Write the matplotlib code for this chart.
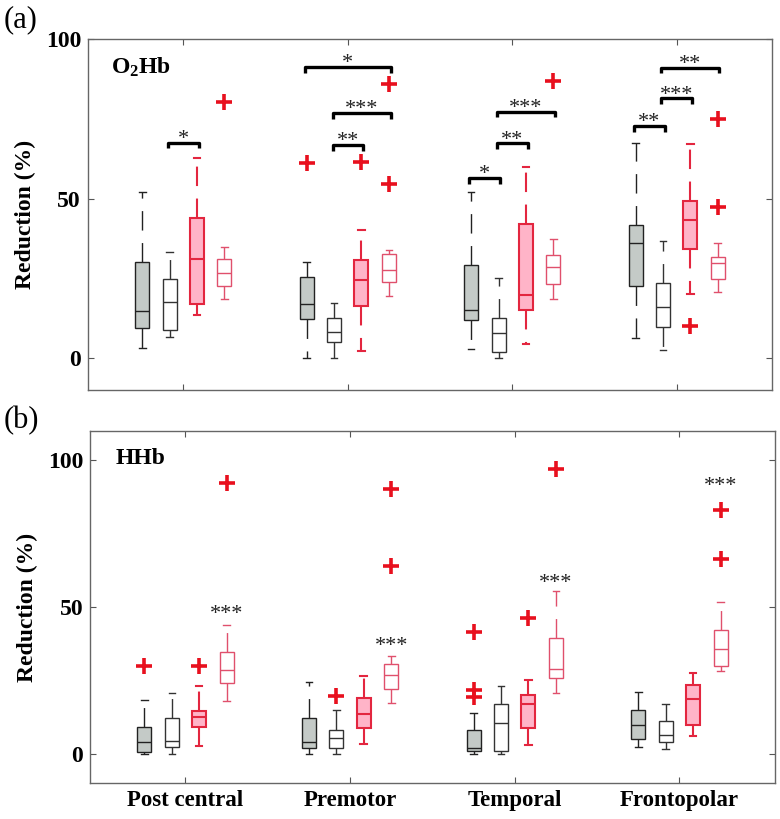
import matplotlib
matplotlib.use("Agg")
import matplotlib.pyplot as plt
import numpy as np

plt.rcParams['font.family'] = ['Liberation Serif', 'DejaVu Serif']
plt.rcParams['mathtext.fontset'] = 'custom'
plt.rcParams['mathtext.rm'] = 'Liberation Serif:bold'
plt.rcParams['mathtext.bf'] = 'Liberation Serif:bold'
plt.rcParams['mathtext.it'] = 'Liberation Serif:bold'

regions = ['Post central', 'Premotor', 'Temporal', 'Frontopolar']
yticks = [0, 50, 100]

# rows: grey, white, pink, red ; columns: regions
o2hb_lo  = [[3.1, 0.0, 2.7, 6.2], [6.7, 0.0, 0.0, 2.5], [13.6, 2.2, 4.3, 20.0], [18.4, 19.5, 18.6, 20.7]]
o2hb_q1  = [[9.4, 12.2, 11.9, 22.6], [8.8, 5.2, 1.8, 9.7], [16.9, 16.4, 15.2, 34.3], [22.5, 23.8, 23.3, 24.8]]
o2hb_med = [[14.7, 17.0, 15.2, 36.0], [17.6, 8.3, 8.0, 15.9], [31.2, 24.4, 19.8, 43.2], [26.8, 27.6, 28.7, 29.9]]
o2hb_q3  = [[30.0, 25.3, 29.3, 41.6], [24.8, 12.6, 12.6, 23.6], [44.0, 30.6, 42.0, 49.2], [31.2, 32.7, 32.2, 31.6]]
o2hb_hi  = [[52.2, 30.0, 52.0, 67.4], [33.2, 17.4, 25.2, 36.6], [62.6, 40.2, 59.8, 67.2], [34.8, 34.0, 37.4, 36.0]]
o2hb_fl  = [[[], [61.0], [], []], [[], [], [], []], [[], [61.6], [], [10.0]], [[80.1], [85.8, 54.6], [86.9], [74.9, 47.5]]]

hhb_lo  = [[0.0, 0.0, 0.0, 2.2], [0.0, 0.0, 0.0, 1.6], [2.7, 3.3, 3.0, 5.9], [17.9, 17.4, 20.7, 28.1]]
hhb_q1  = [[0.7, 1.9, 1.0, 5.0], [2.2, 1.9, 1.0, 4.1], [9.0, 8.8, 8.8, 9.6], [24.1, 22.1, 25.9, 29.9]]
hhb_med = [[3.9, 3.9, 1.8, 9.8], [4.2, 5.3, 10.4, 6.2], [12.4, 13.4, 17.0, 18.5], [28.4, 26.7, 28.8, 35.6]]
hhb_q3  = [[9.2, 12.1, 7.9, 15.0], [12.1, 7.9, 16.8, 11.1], [14.7, 19.1, 19.9, 23.4], [34.7, 30.5, 39.5, 42.3]]
hhb_hi  = [[18.2, 24.4, 13.8, 21.0], [20.7, 15.0, 23.0, 17.0], [23.0, 26.5, 25.2, 27.6], [43.8, 33.2, 55.6, 51.6]]
hhb_fl  = [[[29.9], [], [41.5, 21.8, 19.3], []], [[], [19.5], [], []], [[29.9], [], [46.3], []], [[92.4], [90.3, 63.8], [96.9], [83.2, 66.4]]]

# significance brackets panel (a): region, from series, to series, height, label
sig_region = [0, 1, 1, 1, 2, 2, 2, 3, 3, 3]
sig_from   = [1, 0, 1, 1, 0, 1, 1, 0, 1, 1]
sig_to     = [2, 3, 3, 2, 1, 2, 3, 1, 2, 3]
sig_y      = [67.5, 91.2, 76.8, 66.8, 56.4, 67.3, 77.2, 72.8, 81.4, 91.0]
sig_label  = ['*', '*', '***', '**', '*', '**', '***', '**', '***', '**']

# panel (b) stars above the red series
hhb_star_y = [49.6, 38.7, 60.4, 93.3]

offsets = [-0.25, -0.083, 0.083, 0.25]
box_face = ['#c4cac7', 'white', '#ffb4c8', 'white']
box_edge = ['#222222', '#333333', '#e3263f', '#e0506c']
box_lw = [1.0, 1.0, 1.5, 1.0]
flier_col = '#e8101e'
star_col = '#222222'

fig = plt.figure(figsize=(7.8, 8.19), dpi=100)
ax_a = fig.add_axes([0.1128, 0.5238, 0.877, 0.4286])
ax_b = fig.add_axes([0.1154, 0.044, 0.878, 0.4298])


def draw_panel(ax, lo, q1, med, q3, hi, fl, ylim):
    for s in range(4):
        stats = []
        for r in range(4):
            stats.append(dict(med=med[s][r], q1=q1[s][r], q3=q3[s][r],
                              whislo=lo[s][r], whishi=hi[s][r], fliers=fl[s][r]))
        pos = [r + 1 + offsets[s] for r in range(4)]
        dash = (0, (14 / box_lw[s], 9 / box_lw[s]))
        ax.bxp(stats, positions=pos, widths=0.085, capwidths=0.04,
               patch_artist=True, showfliers=True, manage_ticks=False,
               boxprops=dict(facecolor=box_face[s], edgecolor=box_edge[s], linewidth=box_lw[s]),
               medianprops=dict(color=box_edge[s], linewidth=box_lw[s]),
               whiskerprops=dict(color=box_edge[s], linewidth=box_lw[s], linestyle=dash),
               capprops=dict(color=box_edge[s], linewidth=box_lw[s]),
               flierprops=dict(marker='+', markeredgecolor=flier_col, markersize=11,
                               markeredgewidth=2.6, linestyle='none'))
    ax.set_xlim(0.42, 4.58)
    ax.set_ylim(*ylim)
    ax.set_yticks(yticks)
    ax.set_yticklabels([str(t) for t in yticks], fontsize=17, fontweight='bold')
    ax.set_xticks([1, 2, 3, 4])
    ax.tick_params(direction='in', length=4, width=0.8, top=True, right=True, color='#555555', pad=5)
    for sp in ax.spines.values():
        sp.set_color('#666666')
        sp.set_linewidth(1.0)
    ax.set_ylabel('Reduction (%)', fontsize=17, fontweight='bold', labelpad=7)


draw_panel(ax_a, o2hb_lo, o2hb_q1, o2hb_med, o2hb_q3, o2hb_hi, o2hb_fl, (-10, 100))
draw_panel(ax_b, hhb_lo, hhb_q1, hhb_med, hhb_q3, hhb_hi, hhb_fl, (-10, 110))

ax_a.set_xticklabels([])
ax_b.set_xticklabels(regions, fontsize=16.5, fontweight='bold')

for r, f, t, y, lab in zip(sig_region, sig_from, sig_to, sig_y, sig_label):
    x0 = r + 1 + offsets[f] - 0.01
    x1 = r + 1 + offsets[t] + 0.01
    ax_a.plot([x0, x0, x1, x1], [y - 1.8, y, y, y - 1.8], color='black', lw=2.4,
              solid_joinstyle='round', solid_capstyle='butt')
    ax_a.text((x0 + x1) / 2, y - 0.4, lab, ha='center', va='baseline', fontsize=16, color=star_col)

for r, y in enumerate(hhb_star_y):
    ax_b.text(r + 1 + offsets[3], y - 3.8, '***', ha='center', va='baseline', fontsize=16, color=star_col)

ax_a.text(0.033, 0.92, r'$\mathbf{O_2Hb}$', transform=ax_a.transAxes, fontsize=17,
          ha='left', va='center')
ax_b.text(0.037, 0.923, 'HHb', transform=ax_b.transAxes, fontsize=17, fontweight='bold',
          ha='left', va='center')

fig.text(0.005, 0.976, '(a)', fontsize=22, ha='left', va='center')
fig.text(0.005, 0.487, '(b)', fontsize=22, ha='left', va='center')

fig.savefig('out.png', dpi=100)
